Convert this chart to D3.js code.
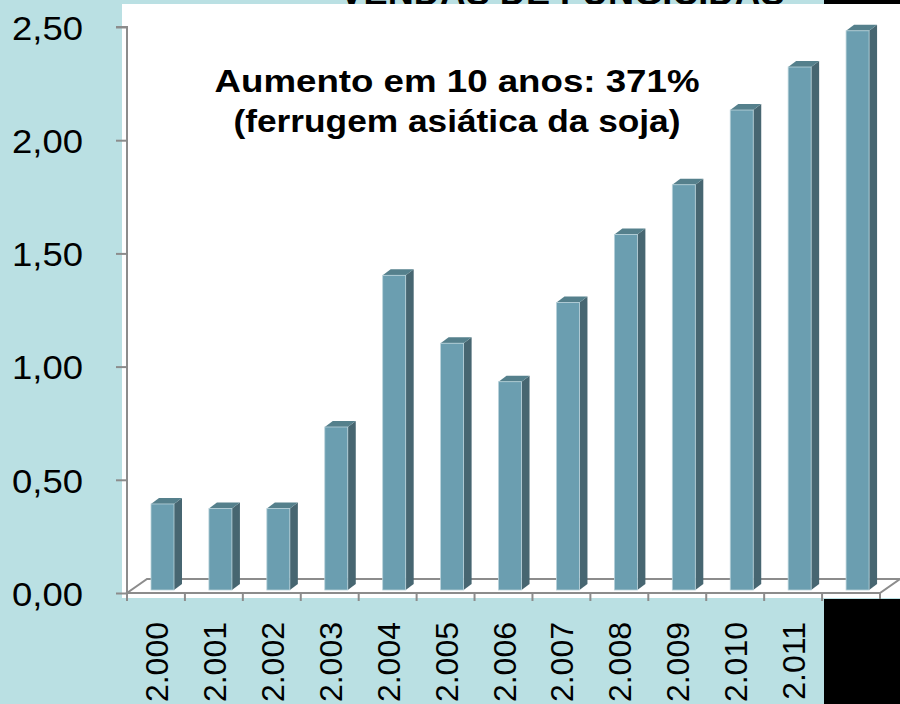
<!DOCTYPE html>
<html><head><meta charset="utf-8">
<script src="https://cdn.jsdelivr.net/npm/d3@7/dist/d3.min.js"></script>
<style>html,body{margin:0;padding:0;background:#bae0e3;}svg{display:block;font-family:"Liberation Sans",Arial,sans-serif;}</style>
</head><body>
<script>
// ---- data ----
const years = ["2.000","2.001","2.002","2.003","2.004","2.005","2.006","2.007","2.008","2.009","2.010","2.011","2.012"];
const sales = [0.38,0.36,0.36,0.72,1.39,1.09,0.92,1.27,1.57,1.79,2.12,2.31,2.47];
const yTicks = [0,0.5,1.0,1.5,2.0,2.5];
const title = "VENDAS DE FUNGICIDAS";
const note = ["Aumento em 10 anos: 371%","(ferrugem asiática da soja)"];

const W = 900, H = 704;
const svg = d3.select("body").append("svg").attr("width",W).attr("height",H);
svg.append("rect").attr("width",W).attr("height",H).attr("fill","#bae0e3");

// title (mostly off-canvas, only its bottom visible)
svg.append("text").attr("x",562).attr("y",5).attr("text-anchor","middle")
  .attr("font-size",36).attr("font-weight","bold").attr("fill","#000")
  .attr("textLength",445).attr("lengthAdjust","spacingAndGlyphs").text(title);

// white plot area
svg.append("rect").attr("x",122).attr("y",4).attr("width",W-122).attr("height",594).attr("fill","#fff");
// black blocks
svg.append("rect").attr("x",824).attr("y",0).attr("width",76).attr("height",4).attr("fill","#000");

const x = d3.scaleBand().domain(years).range([127,880]).padding(0);
const y = d3.scaleLinear().domain([0,2.5]).range([593,27]);
const grey = "#8c8c8c";
const dX = 20, dY = 14; // floor depth

// floor
const f = svg.append("g");
f.append("path").attr("d",`M${x.range()[0]},${y(0)}L${x.range()[1]},${y(0)}L${x.range()[1]+dX},${y(0)-dY}L${x.range()[0]+dX},${y(0)-dY}Z`)
  .attr("fill","none").attr("stroke",grey).attr("stroke-width",2);

// bars
const bw = 23, bdx = 8, bdy = 6, off = 24, base = y(0)-3;
const bars = svg.append("g").selectAll("g").data(years.map((d,i)=>({k:d,v:sales[i]}))).join("g");
bars.append("path").attr("fill","#476671")
  .attr("d",d=>{const x0=x(d.k)+off+bw, yt=y(d.v)-3;return `M${x0},${base}L${x0},${yt}L${x0+bdx},${yt-bdy}L${x0+bdx},${base-bdy}Z`;});
bars.append("path").attr("fill","#55808c")
  .attr("d",d=>{const x0=x(d.k)+off, yt=y(d.v)-3;return `M${x0},${yt}L${x0+bdx},${yt-bdy}L${x0+bw+bdx},${yt-bdy}L${x0+bw},${yt}Z`;});
bars.append("rect").attr("fill","#6b9eb0").attr("stroke","#b8d2da").attr("stroke-width",0.8)
  .attr("x",d=>x(d.k)+off).attr("width",bw)
  .attr("y",d=>y(d.v)-3).attr("height",d=>base-(y(d.v)-3));

// y axis
const yAxis = d3.axisLeft(y).tickValues(yTicks).tickSize(11).tickPadding(33)
  .tickFormat(v=>d3.format(".2f")(v).replace(".",","));
const ya = svg.append("g").attr("transform","translate(127,0)").call(yAxis);
ya.select(".domain").attr("stroke",grey).attr("stroke-width",2).attr("d",`M-11,${y(2.5)}H0V${y(0)+7}`);
ya.selectAll(".tick line").attr("stroke",grey).attr("stroke-width",2);
ya.selectAll(".tick text").attr("font-size",34).attr("fill","#000").attr("font-family","Liberation Sans, Arial, sans-serif")
  .attr("dy","0.36em").attr("textLength",71).attr("lengthAdjust","spacingAndGlyphs");

// x axis baseline ticks at band boundaries
const bounds = years.map(d=>x(d)).concat([x.range()[1]]);
svg.append("g").selectAll("line").data(bounds).join("line")
  .attr("x1",d=>d).attr("x2",d=>d).attr("y1",y(0)).attr("y2",y(0)+8)
  .attr("stroke",grey).attr("stroke-width",2);

// x labels
svg.append("g").selectAll("text").data(years).join("text")
  .attr("transform",d=>`translate(${x(d)+x.bandwidth()/2+12},622) rotate(-90)`)
  .attr("text-anchor","end").attr("font-size",32).attr("fill","#000").text(d=>d);

// bottom-right black block
svg.append("rect").attr("x",824).attr("y",599).attr("width",76).attr("height",105).attr("fill","#000");

// annotation
svg.append("text").attr("x",457).attr("y",92).attr("text-anchor","middle").attr("font-size",31).attr("font-weight","bold")
  .attr("textLength",485).attr("lengthAdjust","spacingAndGlyphs").text(note[0]);
svg.append("text").attr("x",457).attr("y",132).attr("text-anchor","middle").attr("font-size",31).attr("font-weight","bold")
  .attr("textLength",447).attr("lengthAdjust","spacingAndGlyphs").text(note[1]);
</script>
</body></html>
